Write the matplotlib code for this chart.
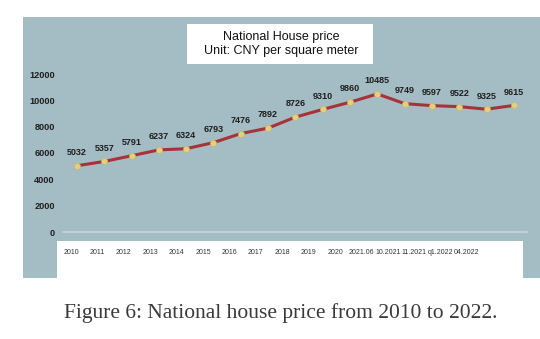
import matplotlib.pyplot as plt
from matplotlib import font_manager
from matplotlib.patches import Rectangle

# data
prices = [5032, 5357, 5791, 6237, 6324, 6793, 7476, 7892, 8726,
          9310, 9860, 10485, 9749, 9597, 9522, 9325, 9615]
tick_labels = ["2010", "2011", "2012", "2013", "2014", "2015", "2016", "2017",
               "2018", "2019", "2020", "2021.06", "10.2021", "11.2021",
               "q1.2022", "04.2022"]
y_ticks = [0, 2000, 4000, 6000, 8000, 10000, 12000]
title_lines = ["National House price", "Unit: CNY per square meter"]
caption = "Figure 6: National house price from 2010 to 2022."

W, H = 540, 339
PANEL = "#a4bcc3"

# narrow font for the crowded category labels, if it is installed
installed = {f.name for f in font_manager.fontManager.ttflist}
if "Liberation Sans Narrow" in installed:
    lab_font, lab_size = "Liberation Sans Narrow", 6.0
else:
    lab_font, lab_size = "Liberation Sans", 5.0


def box(x0, y0, x1, y1):
    # pixel box (top-left origin) -> figure fraction rect
    return [x0 / W, 1 - y1 / H, (x1 - x0) / W, (y1 - y0) / H]


def add_rect(x0, y0, x1, y1, color, z):
    r = box(x0, y0, x1, y1)
    fig.patches.append(Rectangle((r[0], r[1]), r[2], r[3], transform=fig.transFigure,
                                 facecolor=color, edgecolor="none", zorder=z))


fig = plt.figure(figsize=(W / 100, H / 100), dpi=100)
fig.patch.set_facecolor("white")

# grey-blue panel behind the chart
add_rect(23, 17, 540, 278, PANEL, -5)

# white strip holding the category labels
lab_ax = fig.add_axes(box(57, 241, 523, 279))
lab_ax.set_facecolor("white")
for s in lab_ax.spines.values():
    s.set_visible(False)
lab_ax.set_xlim(-0.53, len(tick_labels) + 1.12)
lab_ax.set_ylim(0, 1)
lab_ax.set_xticks(range(len(tick_labels)))
lab_ax.set_xticklabels(tick_labels, fontsize=lab_size, color="#333333",
                       family=lab_font)
lab_ax.xaxis.tick_top()
lab_ax.tick_params(axis="x", length=0, pad=-11)
lab_ax.set_yticks([])

# main line chart
ax = fig.add_axes(box(63, 74, 527, 232))
ax.patch.set_alpha(0)
x = list(range(len(prices)))
ax.plot(x, prices, color="#a8323a", lw=2.2, zorder=2)
ax.scatter(x, prices, s=20, color="#e2d07c", edgecolor="#c9b46a", lw=0.4, zorder=3)
for xi, v in zip(x, prices):
    ax.annotate(str(v), (xi, v), xytext=(0, 9.5), textcoords="offset points",
                ha="center", va="center", fontsize=6.5, fontweight="bold",
                color="#1e1e1e", family="Liberation Sans")

ax.set_xlim(-0.51, len(prices) - 0.52)
ax.set_ylim(0, 12000)
ax.set_yticks(y_ticks)
ax.set_yticklabels([str(t) for t in y_ticks], fontsize=6.6, fontweight="bold",
                   color="#1e1e1e", family="Liberation Sans")
ax.tick_params(axis="y", length=0, pad=6)
ax.set_xticks([])
for side in ["top", "right", "left"]:
    ax.spines[side].set_visible(False)
ax.spines["bottom"].set_color("#c3d5da")
ax.spines["bottom"].set_linewidth(1.2)

# title box
add_rect(187, 24, 373, 64, "white", -4)
fig.text(281 / W, 1 - 44 / H, "\n".join(title_lines), ha="center", va="center",
         fontsize=9, family="Liberation Sans", color="#111111", linespacing=1.25)

# caption
fig.text(281 / W, 1 - 313 / H, caption, ha="center", va="center", fontsize=15.5,
         family="Liberation Serif", color="#3a3a3a")

fig.savefig("out.png", dpi=100)
